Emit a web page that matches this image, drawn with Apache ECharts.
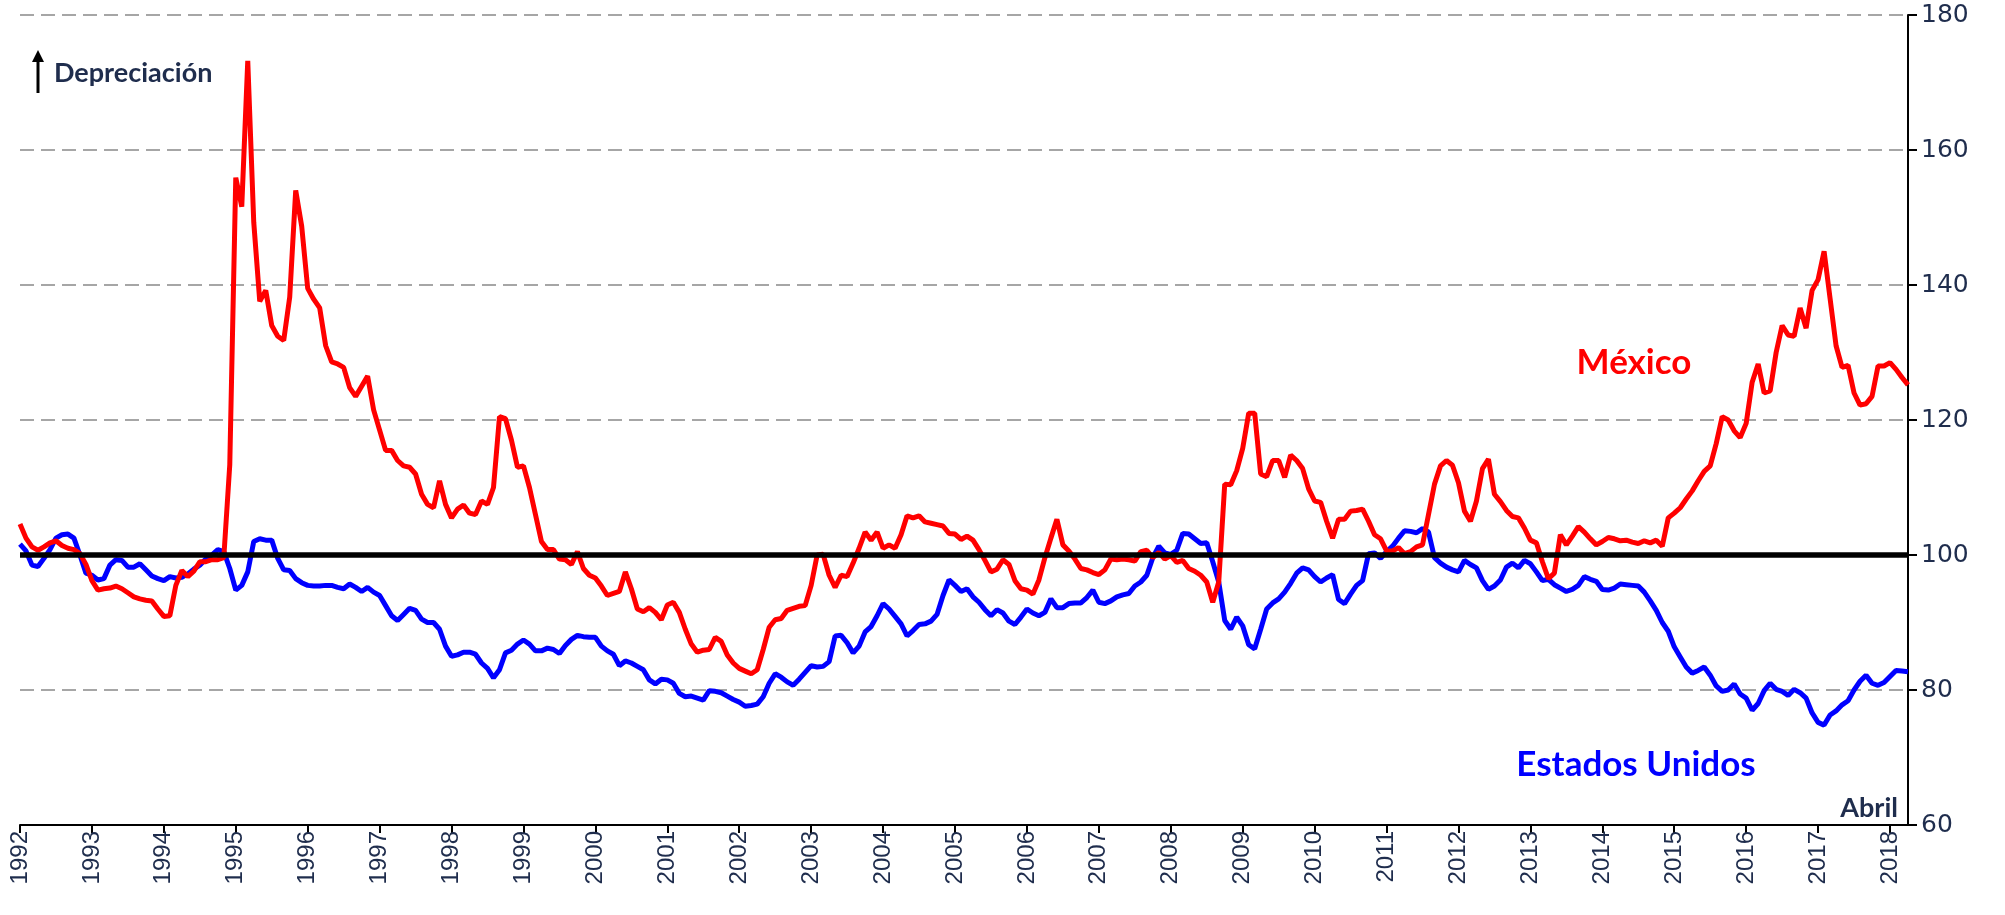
<!DOCTYPE html>
<html>
<head>
<meta charset="utf-8">
<title>Tipo de cambio real: México y Estados Unidos</title>
<script src="https://cdn.jsdelivr.net/npm/echarts@6/dist/echarts.min.js"></script>
<style>
  html, body { margin: 0; padding: 0; background: #fff; }
  #chart { width: 2005px; height: 915px; }
</style>
</head>
<body>
<div id="chart"></div>
<script>
// mensual, enero 1992 - abril 2018
const startYear = 1992;
const nMonths = 316;

const mexico = [
  104.6, 102.5, 101.2, 100.7, 101.2, 101.8, 102.1, 101.4, 101.0, 100.8, 100.2, 98.6,
  96.2, 94.8, 95.0, 95.1, 95.4, 95.0, 94.4, 93.8, 93.5, 93.3, 93.2, 92.0,
  90.9, 91.0, 95.5, 97.7, 96.8, 97.6, 99.0, 99.0, 99.3, 99.3, 99.6, 113.4,
  155.9, 151.6, 173.2, 149.3, 137.6, 139.2, 134.0, 132.4, 131.8, 138.2, 154.0, 148.7,
  139.5, 137.9, 136.6, 131.0, 128.6, 128.3, 127.8, 124.8, 123.5, 125.0, 126.5, 121.5,
  118.5, 115.5, 115.5, 114.0, 113.2, 113.0, 112.0, 109.0, 107.5, 107.0, 111.0, 107.5,
  105.5, 106.8, 107.4, 106.2, 106.0, 108.0, 107.5, 110.0, 120.5, 120.2, 117.0, 113.0,
  113.2, 110.0, 106.0, 102.0, 100.8, 100.8, 99.4, 99.3, 98.6, 100.5, 98.0, 97.0,
  96.6, 95.4, 94.0, 94.3, 94.6, 97.5, 95.0, 92.0, 91.6, 92.2, 91.5, 90.4,
  92.6, 93.0, 91.5, 89.0, 86.8, 85.6, 85.9, 86.0, 87.8, 87.2, 85.2, 84.0,
  83.2, 82.8, 82.4, 83.0, 86.0, 89.3, 90.4, 90.6, 91.8, 92.1, 92.4, 92.5,
  95.5, 100.0, 100.1, 97.0, 95.2, 97.0, 96.8, 98.8, 101.0, 103.4, 102.2, 103.4,
  101.0, 101.5, 101.0, 103.0, 105.8, 105.5, 105.8, 104.9, 104.7, 104.5, 104.3, 103.2,
  103.1, 102.3, 102.8, 102.2, 100.8, 99.2, 97.5, 97.9, 99.3, 98.6, 96.2, 95.0,
  94.8, 94.2, 96.3, 99.6, 102.5, 105.3, 101.5, 100.6, 99.4, 98.0, 97.8, 97.4,
  97.1, 97.8, 99.4, 99.3, 99.4, 99.3, 99.1, 100.5, 100.7, 99.6, 100.4, 99.4,
  99.9, 98.9, 99.2, 98.0, 97.6, 97.0, 96.0, 93.0, 96.0, 110.5, 110.4, 112.5,
  115.8, 121.0, 121.0, 112.0, 111.6, 114.0, 114.0, 111.5, 114.8, 114.0, 112.8, 109.8,
  108.0, 107.8, 105.0, 102.5, 105.3, 105.3, 106.5, 106.6, 106.8, 105.0, 103.0, 102.4,
  100.6, 100.6, 101.1, 100.2, 100.5, 101.2, 101.5, 106.0, 110.5, 113.2, 114.0, 113.3,
  110.7, 106.5, 105.0, 108.0, 112.8, 114.2, 109.0, 107.9, 106.6, 105.7, 105.5, 104.0,
  102.2, 101.8, 99.0, 96.5, 97.3, 103.0, 101.5, 102.8, 104.2, 103.4, 102.4, 101.5,
  102.0, 102.6, 102.4, 102.1, 102.2, 101.9, 101.7, 102.1, 101.8, 102.2, 101.3, 105.5,
  106.2, 107.0, 108.3, 109.5, 111.0, 112.4, 113.2, 116.5, 120.5, 120.0, 118.4, 117.4,
  119.5, 125.6, 128.3, 124.0, 124.3, 130.0, 134.0, 132.6, 132.4, 136.6, 133.6, 139.2,
  140.8, 145.0, 138.0, 131.0, 127.8, 128.1, 124.0, 122.2, 122.4, 123.5, 128.0, 128.0,
  128.5, 127.5, 126.3, 125.2
];

const estadosUnidos = [
  101.6, 100.6, 98.5, 98.3, 99.5, 100.8, 102.5, 103.0, 103.1, 102.5, 100.0, 97.3,
  97.0, 96.3, 96.5, 98.5, 99.3, 99.2, 98.2, 98.2, 98.7, 97.8, 96.9, 96.5,
  96.2, 96.8, 96.6, 96.7, 97.2, 97.9, 98.5, 99.4, 100.0, 100.8, 100.5, 98.0,
  94.8, 95.5, 97.5, 102.0, 102.4, 102.2, 102.2, 99.5, 97.8, 97.7, 96.5, 95.9,
  95.5, 95.4, 95.4, 95.5, 95.5, 95.2, 95.0, 95.7, 95.2, 94.6, 95.2, 94.5,
  94.0, 92.5, 91.0, 90.3, 91.2, 92.1, 91.8, 90.5, 90.0, 90.0, 89.0, 86.5,
  85.0, 85.2, 85.6, 85.6, 85.3, 84.0, 83.2, 81.8, 83.0, 85.5, 85.9, 86.8,
  87.4, 86.8, 85.8, 85.8, 86.2, 86.0, 85.4, 86.6, 87.5, 88.1, 87.9, 87.8,
  87.8, 86.5, 85.8, 85.3, 83.6, 84.3, 84.0, 83.5, 83.0, 81.5, 80.9, 81.6,
  81.5, 81.0, 79.5, 79.0, 79.1, 78.8, 78.5, 79.9, 79.8, 79.6, 79.1, 78.6,
  78.2, 77.6, 77.7, 77.9, 79.0, 81.0, 82.4, 81.9, 81.2, 80.7, 81.6, 82.6,
  83.6, 83.4, 83.5, 84.2, 88.0, 88.1, 87.0, 85.5, 86.5, 88.6, 89.4, 91.0,
  92.8, 92.0, 90.9, 89.8, 88.0, 88.8, 89.7, 89.8, 90.2, 91.2, 94.0, 96.3,
  95.5, 94.6, 95.0, 93.8, 93.0, 91.9, 91.0, 91.9, 91.4, 90.2, 89.7, 90.8,
  92.0, 91.4, 91.0, 91.5, 93.5, 92.2, 92.2, 92.8, 92.9, 92.9, 93.7, 94.8,
  93.0, 92.8, 93.2, 93.8, 94.1, 94.3, 95.4, 96.0, 97.0, 99.6, 101.3, 100.3,
  100.1, 100.7, 103.2, 103.1, 102.4, 101.7, 101.8, 99.0, 96.0, 90.3, 89.0, 90.8,
  89.5, 86.7, 86.1, 89.0, 92.0, 92.9, 93.5, 94.5, 95.8, 97.3, 98.1, 97.8,
  96.8, 96.0, 96.6, 97.1, 93.4, 92.8, 94.2, 95.5, 96.2, 100.2, 100.3, 99.5,
  100.5, 101.3, 102.5, 103.6, 103.5, 103.3, 103.9, 103.4, 99.6, 98.8, 98.2, 97.8,
  97.5, 99.2, 98.6, 98.1, 96.2, 94.9, 95.4, 96.3, 98.2, 98.8, 98.1, 99.2,
  98.7, 97.5, 96.2, 96.4, 95.6, 95.1, 94.6, 94.9, 95.5, 96.8, 96.4, 96.1,
  94.9, 94.8, 95.1, 95.7, 95.6, 95.5, 95.4, 94.5, 93.2, 91.8, 90.0, 88.7,
  86.4, 84.9, 83.4, 82.5, 82.9, 83.4, 82.2, 80.6, 79.8, 80.0, 80.9, 79.4,
  78.8, 77.0, 78.0, 79.9, 81.0, 80.1, 79.8, 79.2, 80.1, 79.6, 78.8, 76.6,
  75.2, 74.8, 76.3, 76.9, 77.8, 78.4, 80.0, 81.3, 82.2, 81.0, 80.7, 81.1,
  82.0, 82.9, 82.8, 82.7
];

const yTicks = [60, 80, 100, 120, 140, 160, 180];
const baseLine = 100;

let months = [];
for (let i = 0; i < nMonths; i++) {
  let y = startYear + Math.floor(i / 12);
  let m = (i % 12) + 1;
  months.push(y + '-' + (m < 10 ? '0' + m : m));
}

const navy = '#1f2d4d';
const isJan = (idx) => idx % 12 === 0;

let myChart = echarts.init(document.getElementById('chart'), null, { renderer: 'canvas' });

let option = {
  animation: false,
  backgroundColor: '#fff',
  grid: { left: 20, right: 97, top: 15, bottom: 90, containLabel: false },
  xAxis: {
    type: 'category',
    data: months,
    boundaryGap: false,
    axisLine: { onZero: false, lineStyle: { color: '#000', width: 2 } },
    axisTick: { show: true, interval: isJan, length: 8, lineStyle: { color: '#000', width: 2 } },
    axisLabel: {
      interval: isJan,
      rotate: 90,
      formatter: (v) => v.slice(0, 4),
      color: navy,
      fontFamily: 'Liberation Sans',
      fontSize: 24,
      margin: 6
    },
    splitLine: { show: false }
  },
  yAxis: {
    type: 'value',
    position: 'right',
    min: yTicks[0],
    max: yTicks[yTicks.length - 1],
    interval: 20,
    axisLine: { show: true, lineStyle: { color: '#000', width: 2 } },
    axisTick: { show: true, length: 9, lineStyle: { color: '#000', width: 2 } },
    axisLabel: {
      color: navy,
      fontFamily: 'DejaVu Sans',
      fontSize: 25,
      margin: 13
    },
    splitLine: { show: true, lineStyle: { color: '#a6a6a6', width: 2, type: [14, 7] } }
  },
  series: [
    {
      name: 'Estados Unidos',
      type: 'line',
      data: estadosUnidos,
      symbol: 'none',
      lineStyle: { color: '#0000ff', width: 5 },
      z: 3
    },
    {
      name: 'México',
      type: 'line',
      data: mexico,
      symbol: 'none',
      lineStyle: { color: '#ff0000', width: 5 },
      z: 4,
      markLine: {
        silent: true,
        symbol: 'none',
        label: { show: false },
        lineStyle: { color: '#000', width: 5.5, type: 'solid' },
        data: [{ yAxis: baseLine }],
        z: 10
      }
    }
  ],
  graphic: [
    {
      type: 'line',
      shape: { x1: 38, y1: 93, x2: 38, y2: 60 },
      style: { stroke: '#000', lineWidth: 3 }
    },
    {
      type: 'polygon',
      shape: { points: [[32, 62], [44, 62], [38, 50]] },
      style: { fill: '#000' }
    },
    {
      type: 'text',
      left: 54, top: 60,
      style: { text: 'Depreciación', fill: navy, font: 'bold 27px Lato' }
    },
    {
      type: 'text',
      x: 1634, y: 363,
      style: { text: 'México', fill: '#ff0000', font: 'bold 35px Lato', align: 'center', verticalAlign: 'middle' }
    },
    {
      type: 'text',
      x: 1636, y: 765,
      style: { text: 'Estados Unidos', fill: '#0000ff', font: 'bold 35px Lato', align: 'center', verticalAlign: 'middle' }
    },
    {
      type: 'text',
      x: 1898, y: 808,
      style: { text: 'Abril', fill: navy, font: 'bold 27px Lato', align: 'right', verticalAlign: 'middle' }
    }
  ]
};

if (option && typeof option === 'object') {
  myChart.setOption(option);
}

window.addEventListener('resize', myChart.resize);
</script>
</body>
</html>
